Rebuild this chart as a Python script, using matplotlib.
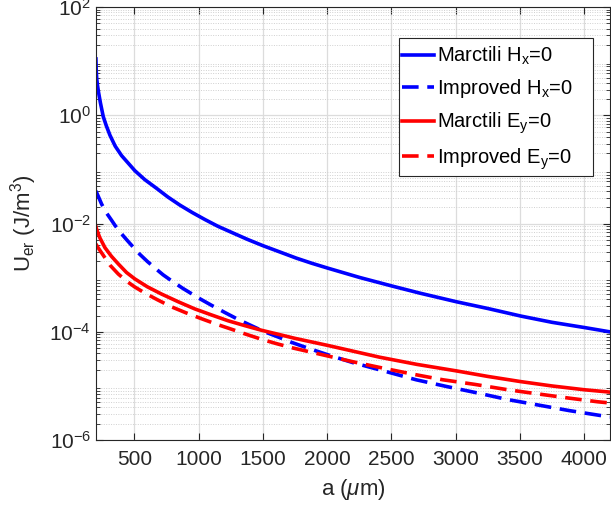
import matplotlib
matplotlib.use('Agg')
import matplotlib.pyplot as plt
from matplotlib.patches import Rectangle
from matplotlib.ticker import LogLocator, FixedLocator, NullFormatter
import numpy as np

plt.rcParams['font.family'] = ['Liberation Sans', 'DejaVu Sans']
plt.rcParams['mathtext.fontset'] = 'custom'
plt.rcParams['mathtext.rm'] = 'Liberation Sans'
plt.rcParams['mathtext.it'] = 'Liberation Sans:italic'

# values (a in um, U_er in J/m^3)
a_marc_hx = [200, 202, 206, 212, 220, 235, 257, 280, 309, 350, 400, 503, 580, 671, 760, 853, 950,
             1048, 1150, 1267, 1380, 1501, 1630, 1760, 1880, 2006, 2253, 2507, 2720, 3005, 3250,
             3510, 3750, 4003, 4200]
u_marc_hx = [11.0, 7.0, 4.8, 3.6, 2.7, 1.7, 0.95, 0.65, 0.43, 0.27, 0.18, 0.095, 0.065, 0.045,
             0.031, 0.0220, 0.0160, 0.0119, 0.0089, 0.0067, 0.0051, 0.0039, 0.0030, 0.0023, 0.00185,
             0.0015, 1.01e-3, 7.0e-4, 5.2e-4, 3.6e-4, 2.7e-4, 1.95e-4, 1.5e-4, 1.2e-4, 1.0e-4]

a_imp_hx = [200, 218, 244, 280, 322, 348, 387, 440, 503, 542, 600, 684, 723, 800, 879, 931, 1000,
            1099, 1200, 1306, 1410, 1514, 1620, 1722, 1850, 2000, 2200, 2460, 2693, 2927, 3173,
            3406, 3653, 3886, 4145, 4200]
u_imp_hx = [0.040, 0.032, 0.023, 0.016, 0.0115, 0.0093, 0.0070, 0.0050, 0.0034, 0.0027, 0.0020,
            0.00135, 0.00113, 8.4e-4, 6.3e-4, 5.3e-4, 4.2e-4, 3.1e-4, 2.3e-4, 1.7e-4, 1.3e-4,
            1.0e-4, 8.0e-5, 6.4e-5, 5.0e-5, 3.8e-5, 2.7e-5, 1.84e-5, 1.3e-5, 9.8e-6, 7.4e-6, 5.6e-6,
            4.4e-6, 3.5e-6, 2.8e-6, 2.65e-6]

a_marc_ey = [200, 205, 230, 270, 320, 374, 438, 503, 600, 710, 840, 970, 1100, 1229, 1360, 1488,
             1620, 1747, 2006, 2200, 2408, 2700, 3005, 3250, 3510, 3750, 4003, 4200]
u_marc_ey = [0.0088, 0.0079, 0.0055, 0.0036, 0.0025, 0.0018, 0.00125, 9.5e-4, 6.8e-4, 5.0e-4,
             3.6e-4, 2.65e-4, 2.05e-4, 1.6e-4, 1.3e-4, 1.07e-4, 9.0e-5, 7.6e-5, 5.6e-5, 4.4e-5,
             3.4e-5, 2.5e-5, 1.9e-5, 1.5e-5, 1.2e-5, 1.0e-5, 8.5e-6, 7.7e-6]

a_imp_ey = [200, 213, 257, 310, 374, 440, 500, 581, 680, 788, 900, 1021, 1140, 1254, 1370, 1488,
            1600, 1722, 2000, 2200, 2408, 2668, 2901, 3148, 3394, 3627, 3873, 4106, 4200]
u_imp_ey = [0.0042, 0.0037, 0.0026, 0.0017, 0.00117, 8.6e-4, 6.8e-4, 5.2e-4, 3.9e-4, 2.9e-4,
            2.25e-4, 1.75e-4, 1.38e-4, 1.12e-4, 9.0e-5, 7.3e-5, 6.1e-5, 5.1e-5, 3.6e-5, 2.8e-5,
            2.2e-5, 1.65e-5, 1.3e-5, 1.07e-5, 8.6e-6, 7.2e-6, 6.0e-6, 5.1e-6, 4.85e-6]

x_ticks = [500, 1000, 1500, 2000, 2500, 3000, 3500, 4000]
y_ticks = [1e-6, 1e-4, 1e-2, 1e0, 1e2]
y_tick_labels = ['10^{-6}', '10^{-4}', '10^{-2}', '10^{0}', '10^{2}']

dark = '#262626'
W, H = 611, 507
fig = plt.figure(figsize=(W / 100, H / 100), dpi=100)
ax = fig.add_axes([0.157, 0.132, 0.841, 0.854])

lw = 2.6
dash = (4.6, 2.4)
ax.semilogy(a_marc_hx, u_marc_hx, color='#0000ff', lw=lw, label=r'Marctili H$_\mathrm{x}$=0')
ax.semilogy(a_imp_hx, u_imp_hx, color='#0000ff', lw=lw, ls=(0, dash), label=r'Improved H$_\mathrm{x}$=0')
ax.semilogy(a_marc_ey, u_marc_ey, color='#ff0000', lw=lw, label=r'Marctili E$_\mathrm{y}$=0')
ax.semilogy(a_imp_ey, u_imp_ey, color='#ff0000', lw=lw, ls=(0, dash), label=r'Improved E$_\mathrm{y}$=0')

ax.set_xlim(200, 4200)
ax.set_ylim(1e-6, 1e2)
ax.xaxis.set_major_locator(FixedLocator(x_ticks))
ax.yaxis.set_major_locator(FixedLocator(y_ticks))
ax.yaxis.set_minor_locator(LogLocator(base=10, subs=np.arange(2, 10)))
ax.yaxis.set_minor_formatter(NullFormatter())
ax.set_yticklabels([r'$\mathregular{%s}$' % t for t in y_tick_labels])

ax.grid(True, which='major', color='#dcdcdc', lw=0.9)
ax.grid(True, which='minor', axis='y', color='#d0d0d0', lw=0.7, ls=(0, (1, 1.5)))
ax.set_axisbelow(True)

ax.tick_params(which='both', direction='in', top=True, right=True, colors=dark, labelsize=15)
ax.tick_params(which='major', length=5, width=0.8)
ax.tick_params(axis='x', which='major', pad=7)
ax.tick_params(which='minor', length=3, width=0.6)
for s in ax.spines.values():
    s.set_color(dark)
    s.set_linewidth(0.8)

ax.set_xlabel(r'a ($\mu$m)', fontsize=16, color=dark, labelpad=6)
ax.set_ylabel(r'U$_\mathrm{er}$ (J/m$^\mathrm{3}$)', fontsize=16, color=dark)
ax.yaxis.set_label_coords(-0.11, 0.5)

# MATLAB-style legend box: wider than its text, drawn separately
box = Rectangle((399 / W, 1 - 176 / H), 194 / W, 138 / H, transform=fig.transFigure,
                facecolor='white', edgecolor=dark, lw=0.8, zorder=4.9, clip_on=False)
ax.add_patch(box)
leg = ax.legend(loc='upper left', bbox_to_anchor=(402 / W, 1 - 45 / H), bbox_transform=fig.transFigure,
                fontsize=14.5, handlelength=1.6, handletextpad=0.15, labelspacing=0.5, borderpad=0,
                borderaxespad=0, frameon=False)

fig.savefig('out.png', dpi=100)
